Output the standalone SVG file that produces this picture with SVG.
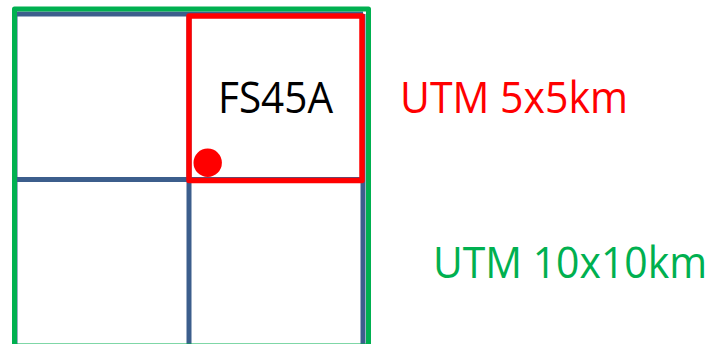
<svg xmlns="http://www.w3.org/2000/svg" width="714" height="344" viewBox="0 0 714 344">
<style>
.grid{fill:none;stroke:#3C5E8C;stroke-width:5}
.big{fill:none;stroke:#00B050;stroke-width:5;stroke-linejoin:round}
.cell{fill:none;stroke:#FF0000;stroke-width:5.5;stroke-linejoin:round}
.lbl{font-family:"Open Sans","Liberation Sans",Arial,sans-serif;font-size:43px}
</style>
<rect width="714" height="344" fill="#FFFFFF"/>
<g id="grid10">
<path class="grid" d="M15 14H363M15 179.5H363M15 14V350M189 14V350M363 14V350"/>
</g>
<g id="utm10">
<rect class="big" x="14.5" y="9" width="354" height="337"/>
</g>
<g id="utm5">
<rect class="cell" x="189" y="16" width="173" height="164.5"/>
<circle cx="207.7" cy="162.8" r="14.2" fill="#FF0000"/>
<text class="lbl" x="218" y="113" fill="#000000" textLength="115" lengthAdjust="spacingAndGlyphs">FS45A</text>
</g>
<g id="label5">
<text class="lbl" x="400" y="113" fill="#FF0000" textLength="228" lengthAdjust="spacingAndGlyphs">UTM 5x5km</text>
</g>
<g id="label10">
<text class="lbl" x="433" y="278" fill="#00B050" textLength="274" lengthAdjust="spacingAndGlyphs">UTM 10x10km</text>
</g>
<g id="connectors"></g>
</svg>
